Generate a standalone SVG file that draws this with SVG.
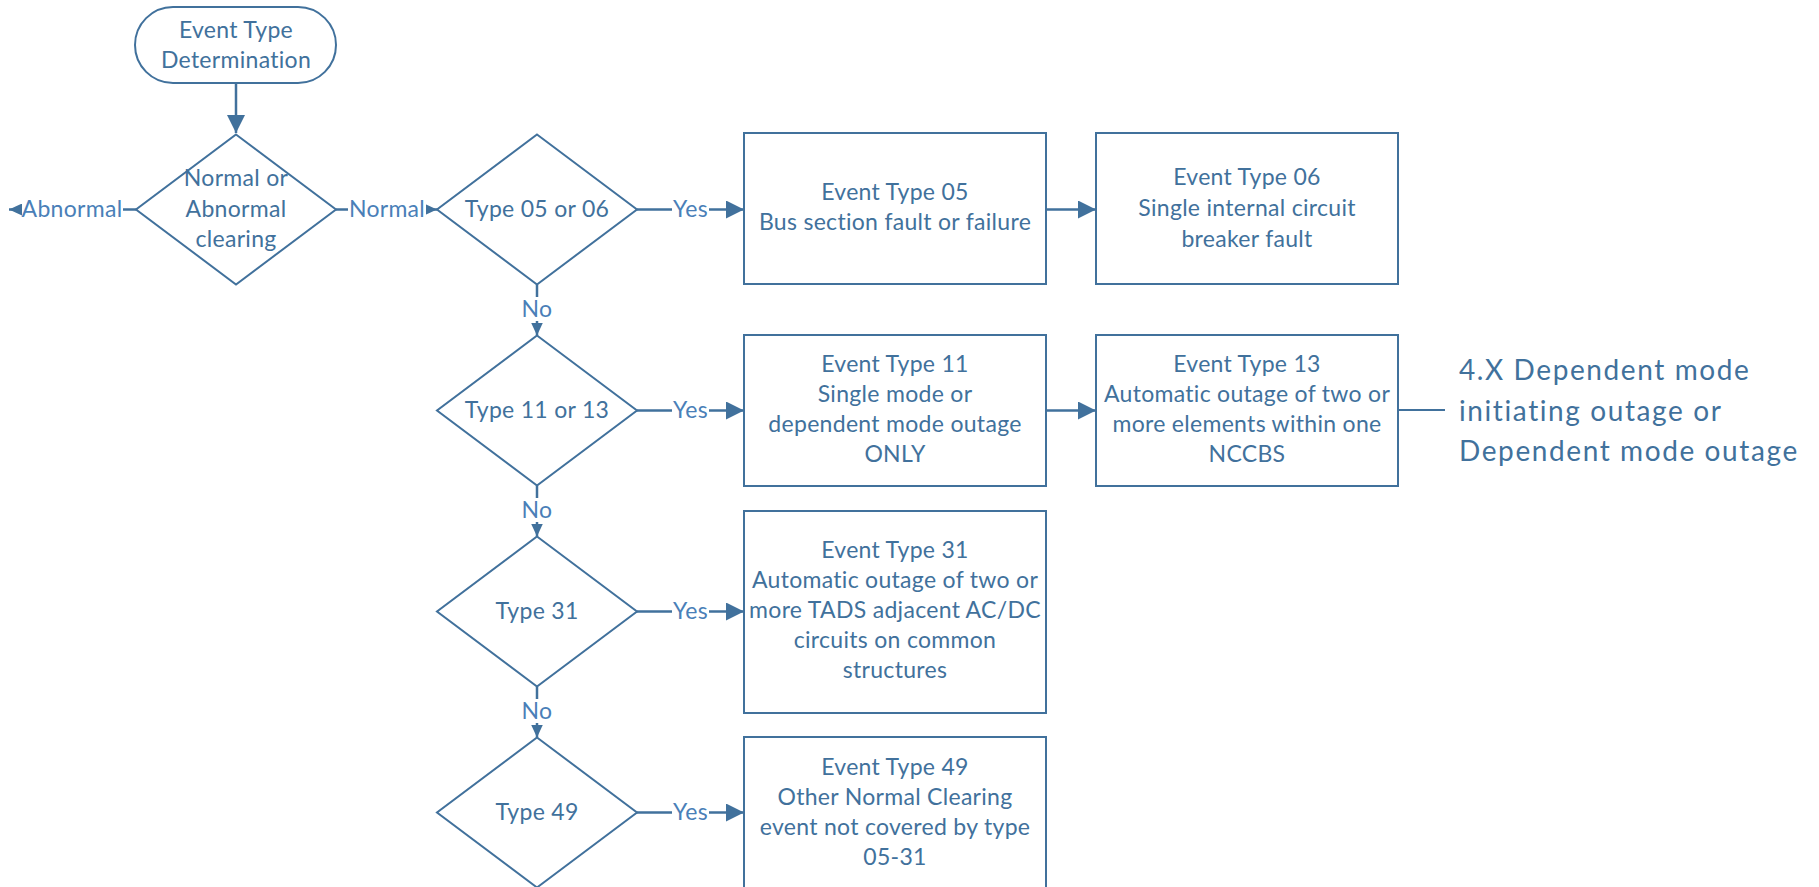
<svg xmlns="http://www.w3.org/2000/svg" width="1819" height="887" viewBox="0 0 1819 887">
<style>
  .shape { fill: #ffffff; stroke: #41719C; stroke-width: 2; }
  .t { font-family: Lato, "Liberation Sans", sans-serif; font-size: 23px; letter-spacing: 0.3px; fill: #41719C; text-anchor: middle; }
  .lbl { font-family: Lato, "Liberation Sans", sans-serif; font-size: 23px; letter-spacing: 0.3px; fill: #4A7FB8; text-anchor: middle; }
  .big { font-family: Lato, "Liberation Sans", sans-serif; font-size: 28px; letter-spacing: 1.6px; fill: #41719C; }
  .conn { fill: none; stroke: #41719C; stroke-width: 2.5; }
  .bg { fill: #ffffff; stroke: none; }
</style>
<defs>
  <marker id="big" markerUnits="userSpaceOnUse" markerWidth="18" markerHeight="18" refX="18" refY="9" orient="auto">
    <path d="M0,0 L18,9 L0,18 z" fill="#41719C"/>
  </marker>
  <marker id="small" markerUnits="userSpaceOnUse" markerWidth="13" markerHeight="12" refX="13" refY="6" orient="auto">
    <path d="M0,0 L13,6 L0,12 z" fill="#41719C"/>
  </marker>
</defs>
<rect width="1819" height="887" fill="#ffffff"/>

<g id="connectors">
  <path class="conn" d="M236,83 V133" marker-end="url(#big)"/>
  <path class="conn" d="M136,209.5 H9" marker-end="url(#small)"/>
  <path class="conn" d="M336,209.5 H437" marker-end="url(#small)"/>
  <path class="conn" d="M637,209.5 H744" marker-end="url(#big)"/>
  <path class="conn" d="M1046,209.5 H1096" marker-end="url(#big)"/>
  <path class="conn" d="M537,284.5 V335.5" marker-end="url(#small)"/>
  <path class="conn" d="M637,410.5 H744" marker-end="url(#big)"/>
  <path class="conn" d="M1046,410.5 H1096" marker-end="url(#big)"/>
  <path class="conn" d="M1398,410 H1445" style="stroke-width:2"/>
  <path class="conn" d="M537,485.5 V536.5" marker-end="url(#small)"/>
  <path class="conn" d="M637,611.5 H744" marker-end="url(#big)"/>
  <path class="conn" d="M537,686.5 V737.5" marker-end="url(#small)"/>
  <path class="conn" d="M637,812.5 H744" marker-end="url(#big)"/>

  <rect class="bg" x="22" y="198" width="101" height="24"/>
  <text class="lbl" x="72" y="217">Abnormal</text>
  <rect class="bg" x="348" y="198" width="78" height="24"/>
  <text class="lbl" x="387" y="217">Normal</text>

  <rect class="bg" x="672" y="198" width="37" height="24"/>
  <text class="lbl" x="690.5" y="217">Yes</text>
  <rect class="bg" x="672" y="399" width="37" height="24"/>
  <text class="lbl" x="690.5" y="418">Yes</text>
  <rect class="bg" x="672" y="600" width="37" height="24"/>
  <text class="lbl" x="690.5" y="619">Yes</text>
  <rect class="bg" x="672" y="801" width="37" height="24"/>
  <text class="lbl" x="690.5" y="820">Yes</text>

  <rect class="bg" x="522" y="297" width="30" height="24"/>
  <text class="lbl" x="537" y="317">No</text>
  <rect class="bg" x="522" y="498" width="30" height="24"/>
  <text class="lbl" x="537" y="518">No</text>
  <rect class="bg" x="522" y="699" width="30" height="24"/>
  <text class="lbl" x="537" y="719">No</text>
</g>

<g id="start">
  <rect class="shape" x="135" y="7" width="201" height="76" rx="38" ry="38"/>
  <text class="t" x="236" y="38">Event Type</text>
  <text class="t" x="236" y="68">Determination</text>
</g>

<g id="d-normal">
  <polygon class="shape" points="236,134.5 336,209.5 236,284.5 136,209.5"/>
  <text class="t" x="236" y="186">Normal or</text>
  <text class="t" x="236" y="217">Abnormal</text>
  <text class="t" x="236" y="247">clearing</text>
</g>

<g id="d-0506">
  <polygon class="shape" points="537,134.5 637,209.5 537,284.5 437,209.5"/>
  <text class="t" x="537" y="217">Type 05 or 06</text>
</g>

<g id="d-1113">
  <polygon class="shape" points="537,335.5 637,410.5 537,485.5 437,410.5"/>
  <text class="t" x="537" y="418">Type 11 or 13</text>
</g>

<g id="d-31">
  <polygon class="shape" points="537,536.5 637,611.5 537,686.5 437,611.5"/>
  <text class="t" x="537" y="619">Type 31</text>
</g>

<g id="d-49">
  <polygon class="shape" points="537,737.5 637,812.5 537,887.5 437,812.5"/>
  <text class="t" x="537" y="820">Type 49</text>
</g>

<g id="b-05">
  <rect class="shape" x="744" y="133" width="302" height="151"/>
  <text class="t" x="895" y="200">Event Type 05</text>
  <text class="t" x="895" y="230">Bus section fault or failure</text>
</g>

<g id="b-06">
  <rect class="shape" x="1096" y="133" width="302" height="151"/>
  <text class="t" x="1247" y="185">Event Type 06</text>
  <text class="t" x="1247" y="216">Single internal circuit</text>
  <text class="t" x="1247" y="247">breaker fault</text>
</g>

<g id="b-11">
  <rect class="shape" x="744" y="335" width="302" height="151"/>
  <text class="t" x="895" y="372">Event Type 11</text>
  <text class="t" x="895" y="402">Single mode or</text>
  <text class="t" x="895" y="432">dependent mode outage</text>
  <text class="t" x="895" y="462">ONLY</text>
</g>

<g id="b-13">
  <rect class="shape" x="1096" y="335" width="302" height="151"/>
  <text class="t" x="1247" y="372">Event Type 13</text>
  <text class="t" x="1247" y="402">Automatic outage of two or</text>
  <text class="t" x="1247" y="432">more elements within one</text>
  <text class="t" x="1247" y="462">NCCBS</text>
</g>

<g id="b-31">
  <rect class="shape" x="744" y="511" width="302" height="202"/>
  <text class="t" x="895" y="558">Event Type 31</text>
  <text class="t" x="895" y="588">Automatic outage of two or</text>
  <text class="t" x="895" y="618">more TADS adjacent AC/DC</text>
  <text class="t" x="895" y="648">circuits on common</text>
  <text class="t" x="895" y="678">structures</text>
</g>

<g id="b-49">
  <rect class="shape" x="744" y="737" width="302" height="152"/>
  <text class="t" x="895" y="775">Event Type 49</text>
  <text class="t" x="895" y="805">Other Normal Clearing</text>
  <text class="t" x="895" y="835">event not covered by type</text>
  <text class="t" x="895" y="865">05-31</text>
</g>

<g id="note-dependent">
  <text class="big" x="1459" y="380">4.X Dependent mode</text>
  <text class="big" x="1459" y="421">initiating outage or</text>
  <text class="big" x="1459" y="461">Dependent mode outage</text>
</g>
</svg>
